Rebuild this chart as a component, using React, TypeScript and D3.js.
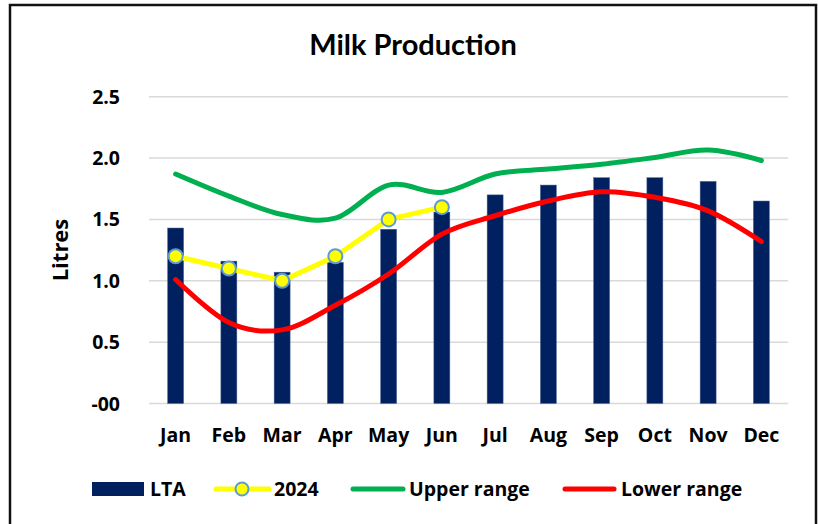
import React from "react";
import * as d3 from "d3";

const months = ["Jan", "Feb", "Mar", "Apr", "May", "Jun", "Jul", "Aug", "Sep", "Oct", "Nov", "Dec"];
const lta = [1.43, 1.16, 1.07, 1.15, 1.42, 1.56, 1.70, 1.78, 1.84, 1.84, 1.81, 1.65];
const y2024 = [1.2, 1.1, 1.0, 1.2, 1.5, 1.6];
const upper = [1.87, 1.69, 1.54, 1.51, 1.78, 1.72, 1.87, 1.91, 1.95, 2.005, 2.065, 1.98];
const lower = [1.01, 0.66, 0.6, 0.8, 1.055, 1.38, 1.53, 1.65, 1.725, 1.68, 1.57, 1.32];
const yTicks = [0, 0.5, 1.0, 1.5, 2.0, 2.5];
const yTickLabels = ["-00", "0.5", "1.0", "1.5", "2.0", "2.5"];

const W = 819;
const H = 524;
const FONT = "'Open Sans', Lato, sans-serif";
const TITLE_FONT = "Lato, 'Open Sans', sans-serif";

export default function App() {
  const x = d3.scaleBand<string>().domain(months).range([149, 788]).paddingInner(0.7).paddingOuter(0.35);
  const y = d3.scaleLinear().domain([0, 2.5]).range([403.5, 96.7]);
  const cx = (m: string) => (x(m) as number) + x.bandwidth() / 2;

  const smooth = d3
    .line<number>()
    .x((_, i) => cx(months[i]))
    .y((d) => y(d))
    .curve(d3.curveCardinal.tension(0));
  const straight = d3
    .line<number>()
    .x((_, i) => cx(months[i]))
    .y((d) => y(d));

  const legendY = 489;

  return (
    <svg
      width={W}
      height={H}
      style={{ position: "absolute", left: 0, top: 0, display: "block", background: "#fff" }}
      fontFamily={FONT}
    >
      <rect x={0} y={0} width={W} height={H} fill="#fff" />
      <rect x={10} y={5} width={806} height={H + 10} fill="none" stroke="#111" strokeWidth={2.5} />

      <text x={413} y={55} textAnchor="middle" fontSize={29} fontWeight={700} fill="#000" fontFamily={TITLE_FONT}>
        Milk Production
      </text>

      {yTicks.map((t, i) => (
        <g key={t}>
          <line x1={149} x2={788} y1={y(t)} y2={y(t)} stroke="#d9d9d9" strokeWidth={1.5} />
          <text x={120} y={y(t)} dy="0.36em" textAnchor="end" fontSize={19.5} fontWeight={700} fill="#000">
            {yTickLabels[i]}
          </text>
        </g>
      ))}

      <text
        transform="translate(68,250) rotate(-90)"
        textAnchor="middle"
        fontSize={22}
        fontWeight={700}
        fill="#000"
      >
        Litres
      </text>

      {months.map((m, i) => (
        <g key={m}>
          <rect
            x={x(m)}
            y={y(lta[i])}
            width={x.bandwidth()}
            height={y(0) - y(lta[i])}
            fill="#002060"
            stroke="#4d6699"
            strokeWidth={0.5}
          />
          <text x={cx(m)} y={442} textAnchor="middle" fontSize={19.5} fontWeight={700} fill="#000">
            {m}
          </text>
        </g>
      ))}

      <path d={smooth(upper) || ""} fill="none" stroke="#00B050" strokeWidth={5} strokeLinecap="round" />
      <path d={smooth(lower) || ""} fill="none" stroke="#FF0000" strokeWidth={5} strokeLinecap="round" />
      <path d={straight(y2024) || ""} fill="none" stroke="#FFFF00" strokeWidth={5} strokeLinecap="round" />
      {y2024.map((v, i) => (
        <circle key={i} cx={cx(months[i])} cy={y(v)} r={7} fill="#FFFF00" stroke="#5B9BD5" strokeWidth={2} />
      ))}

      <g fontSize={19.5} fontWeight={700} fill="#000">
        <rect x={92} y={legendY - 7} width={52} height={14} fill="#002060" />
        <text x={150} y={legendY} dy="0.36em">LTA</text>

        <line x1={216} x2={269} y1={legendY} y2={legendY} stroke="#FFFF00" strokeWidth={5} strokeLinecap="round" />
        <circle cx={242} cy={legendY} r={6.5} fill="#FFFF00" stroke="#5B9BD5" strokeWidth={2} />
        <text x={274} y={legendY} dy="0.36em">2024</text>

        <line x1={353} x2={403} y1={legendY} y2={legendY} stroke="#00B050" strokeWidth={5} strokeLinecap="round" />
        <text x={409} y={legendY} dy="0.36em">Upper range</text>

        <line x1={565} x2={614} y1={legendY} y2={legendY} stroke="#FF0000" strokeWidth={5} strokeLinecap="round" />
        <text x={621} y={legendY} dy="0.36em">Lower range</text>
      </g>
    </svg>
  );
}
